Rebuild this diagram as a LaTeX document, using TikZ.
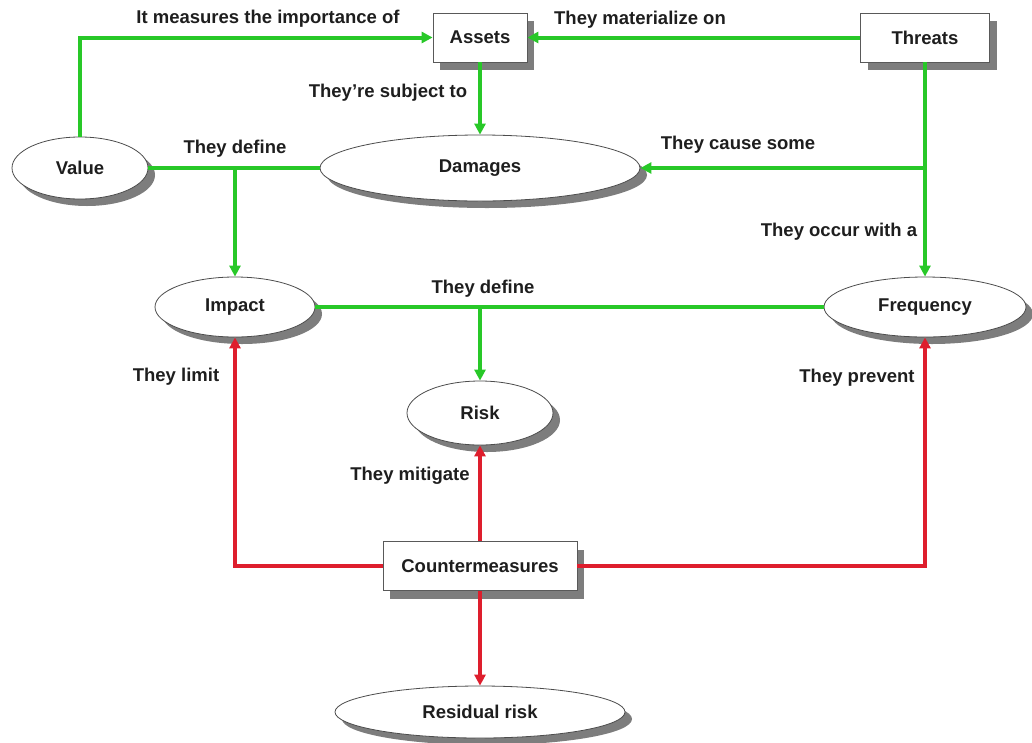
\documentclass[tikz,border=0pt]{standalone}
\usepackage{fontspec}
\setmainfont{Liberation Sans}
\usetikzlibrary{shapes.geometric,shadows,arrows.meta}
\definecolor{lgreen}{RGB}{40,200,40}
\definecolor{lred}{RGB}{222,30,45}
\definecolor{txt}{RGB}{30,30,30}
\definecolor{shad}{RGB}{125,125,125}
\tikzset{
  every node/.style={font=\fontsize{18.5}{20}\selectfont\bfseries, text=txt},
  boxnode/.style={draw=gray!70!black, line width=0.8pt, fill=white, inner sep=0pt,
    drop shadow={shadow xshift=7pt, shadow yshift=-8pt, fill=shad, opacity=1}},
  ellnode/.style={ellipse, draw=gray!60!black, line width=0.8pt, fill=white, inner sep=0pt,
    drop shadow={shadow xshift=7pt, shadow yshift=-7pt, fill=shad, opacity=1}},
  gline/.style={draw=lgreen, line width=4pt},
  garrow/.style={gline, -{Triangle[length=11pt,width=11pt]}},
  rline/.style={draw=lred, line width=4pt},
  rarrow/.style={rline, -{Triangle[length=11pt,width=11pt]}},
  lbl/.style={inner sep=0pt}
}
\begin{document}
\begin{tikzpicture}[x=1pt,y=-1pt]
\useasboundingbox (0,0) rectangle (1032,742);
% nodes
\node[boxnode, minimum width=94pt, minimum height=49pt] (assets) at (480,37.5) {Assets};
\node[boxnode, minimum width=129pt, minimum height=49pt] (threats) at (925,37.5) {Threats};
\node[ellnode, minimum width=136pt, minimum height=62pt] (value) at (80,168) {Value};
\node[ellnode, minimum width=320pt, minimum height=66pt] (damages) at (480,168) {Damages};
\node[ellnode, minimum width=160pt, minimum height=60pt] (impact) at (235,307) {Impact};
\node[ellnode, minimum width=202pt, minimum height=60pt] (freq) at (925,307) {Frequency};
\node[ellnode, minimum width=146pt, minimum height=64pt] (risk) at (480,413) {Risk};
\node[boxnode, minimum width=194pt, minimum height=49pt] (counter) at (480,566) {Countermeasures};
\node[ellnode, minimum width=290pt, minimum height=52pt] (resid) at (480,712) {Residual risk};
% junctions
\coordinate (j1) at (235,168);
\coordinate (j2) at (925,168);
\coordinate (j3) at (480,307);
% green connectors
\draw[garrow] (value.north) |- (assets.west);
\draw[garrow] (threats.west) -- (assets.east);
\draw[garrow] (assets.south) -- (damages.north);
\draw[gline] (value.east) -- (damages.west);
\draw[garrow] (j1) -- (impact.north);
\draw[garrow] (threats.south) -- (freq.north);
\draw[garrow] (j2) -- (damages.east);
\draw[gline] (impact.east) -- (freq.west);
\draw[garrow] (j3) -- (risk.north);
% red connectors
\draw[rarrow] (counter.north) -- (risk.south);
\draw[rarrow] (counter.west) -| (impact.south);
\draw[rarrow] (counter.east) -| (freq.south);
\draw[rarrow] (counter.south) -- (resid.north);
% labels
\node[lbl] (l1) at (268,19) {It measures the importance of};
\node[lbl] (l2) at (640,20) {They materialize on};
\node[lbl] (l3) at (388,93) {They're subject to};
\node[lbl] (l4) at (235,149) {They define};
\node[lbl] (l5) at (738,145) {They cause some};
\node[lbl] (l6) at (839,232) {They occur with a};
\node[lbl] (l7) at (483,289) {They define};
\node[lbl] (l8) at (176,377) {They limit};
\node[lbl] (l9) at (857,378) {They prevent};
\node[lbl] (l10) at (410,476) {They mitigate};
\end{tikzpicture}
\end{document}
